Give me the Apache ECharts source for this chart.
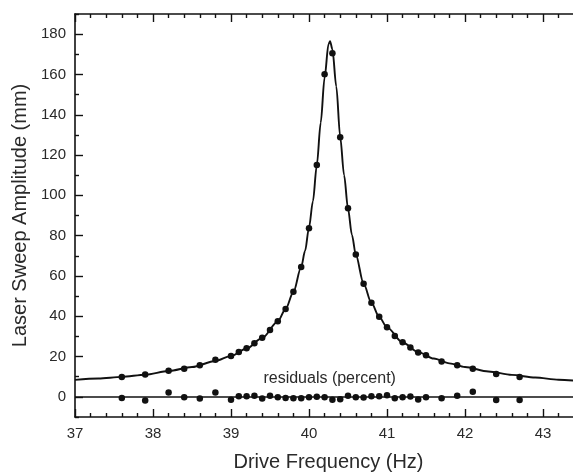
<!DOCTYPE html>
<html>
<head>
<meta charset="utf-8">
<script src="https://cdn.jsdelivr.net/npm/echarts@6/dist/echarts.min.js"></script>
<style>
  html, body { margin: 0; padding: 0; background: #fff; }
  #main { width: 573px; height: 473px; }
</style>
</head>
<body>
<div id="main"></div>
<script>
// measured points (Hz, mm) and residuals (percent)
var freq = [37.6, 37.9, 38.2, 38.4, 38.6, 38.8, 39.0, 39.1, 39.2, 39.3, 39.4, 39.5, 39.6, 39.7, 39.8, 39.9,
  40.0, 40.1, 40.2, 40.3, 40.4, 40.5, 40.6, 40.7, 40.8, 40.9, 41.0, 41.1, 41.2, 41.3, 41.4, 41.5,
  41.7, 41.9, 42.1, 42.4, 42.7];
var amplitude = [9.9, 11.1, 12.9, 14.0, 15.7, 18.4, 20.3, 22.2, 24.1, 26.6, 29.3, 33.2, 37.5, 43.6, 52.1, 64.5,
  83.7, 115.1, 160.1, 170.5, 128.8, 93.6, 70.6, 56.1, 46.7, 39.7, 34.5, 30.2, 27.1, 24.5, 22.0, 20.7,
  17.5, 15.7, 14.0, 11.4, 9.8];
var residuals = [-0.6, -1.8, 2.2, -0.2, -0.8, 2.2, -1.5, 0.3, 0.3, 0.6, -0.8, 0.5, -0.2, -0.6, -0.7, -0.7,
  -0.2, 0.0, -0.2, -1.5, -1.2, 0.6, -0.2, -0.3, 0.3, 0.3, 0.8, -0.7, -0.2, 0.2, -1.3, -0.2,
  -0.7, 0.5, 2.5, -1.6, -1.6];

// fitted curve
var fitFreq = [37.0, 37.3, 37.6, 37.9, 38.2, 38.5, 38.8, 39.0, 39.2, 39.4, 39.6, 39.7, 39.8, 39.9, 39.95,
  40.0, 40.05, 40.1, 40.15, 40.2, 40.25, 40.27, 40.3, 40.35, 40.4, 40.45, 40.5, 40.55, 40.6, 40.7,
  40.8, 40.9, 41.0, 41.2, 41.4, 41.6, 41.8, 42.0, 42.3, 42.6, 42.9, 43.2, 43.5];
var fitAmp = [8.4, 9.1, 9.9, 11.0, 12.8, 14.8, 17.8, 20.3, 24.0, 29.2, 37.4, 43.6, 52.0, 64.5, 72.5,
  84.0, 97.0, 115.0, 136.0, 158.5, 175.0, 176.5, 172.5, 154.0, 129.0, 110.0, 93.5, 80.5, 70.5, 56.2,
  46.7, 39.7, 34.5, 27.0, 22.2, 19.0, 16.6, 14.8, 12.6, 10.9, 9.6, 8.5, 7.7];

var xTicks = [37, 38, 39, 40, 41, 42, 43];
var yTicks = [0, 20, 40, 60, 80, 100, 120, 140, 160, 180];
var xMinor = [];
for (var i = 0; i < xTicks.length; i++) {
  for (var k = 1; k < 5; k++) xMinor.push(+(xTicks[i] + k * 0.2).toFixed(1));
}
var yMinor = [-10];
for (var j = 0; j < yTicks.length; j++) yMinor.push(yTicks[j] + 10);

var ink = '#111';
var txt = '#2a2a2a';
var font = 'Arial, "Liberation Sans", sans-serif';

function xAx(pos, ticks, len, major) {
  return {
    type: 'value', position: pos, min: 37, max: 43.5,
    axisLine: { show: major, onZero: false, lineStyle: { color: ink, width: 1.6 } },
    axisTick: { show: true, inside: true, length: len, customValues: ticks, lineStyle: { color: ink, width: 1.4 } },
    axisLabel: { show: major && pos === 'bottom', customValues: xTicks, margin: 9, fontSize: 15, color: txt, fontFamily: font },
    splitLine: { show: false }
  };
}
function yAx(ticks, len, major) {
  return {
    type: 'value', position: 'left', min: -10, max: 190,
    axisLine: { show: major, onZero: false, lineStyle: { color: ink, width: 1.6 } },
    axisTick: { show: true, inside: true, length: len, customValues: ticks, lineStyle: { color: ink, width: 1.4 } },
    axisLabel: { show: major, customValues: yTicks, margin: 9, fontSize: 15, color: txt, fontFamily: font },
    splitLine: { show: false }
  };
}

var xMain = xAx('bottom', xTicks, 8, true);
xMain.name = 'Drive Frequency (Hz)';
xMain.nameLocation = 'middle';
xMain.nameGap = 35;
xMain.nameTextStyle = { fontSize: 20, color: txt, fontFamily: font };
var yMain = yAx(yTicks, 8, true);
yMain.name = 'Laser Sweep Amplitude (mm)';
yMain.nameLocation = 'middle';
yMain.nameGap = 44;
yMain.nameTextStyle = { fontSize: 20, color: txt, fontFamily: font };

var chart = echarts.init(document.getElementById('main'));
chart.setOption({
  animation: false,
  backgroundColor: '#fff',
  // plot runs past the right edge of the picture, as in the source figure
  grid: { left: 75, width: 507, top: 14, bottom: 56, outerBoundsMode: 'none' },
  xAxis: [xMain, xAx('bottom', xMinor, 4, false), xAx('top', xTicks, 8, true), xAx('top', xMinor, 4, false)],
  yAxis: [yMain, yAx(yMinor, 4, false)],
  series: [
    {
      name: 'fit', type: 'line', smooth: 0.3, smoothMonotone: 'x', showSymbol: false,
      data: fitFreq.map(function (f, i) { return [f, fitAmp[i]]; }),
      lineStyle: { color: ink, width: 1.9 }
    },
    {
      name: 'data', type: 'scatter', symbolSize: 6.5,
      data: freq.map(function (f, i) { return [f, amplitude[i]]; }),
      itemStyle: { color: ink, opacity: 1 }
    },
    {
      name: 'residuals', type: 'scatter', symbolSize: 6.5,
      data: freq.map(function (f, i) { return [f, residuals[i]]; }),
      itemStyle: { color: ink, opacity: 1 },
      markLine: {
        silent: true, symbol: 'none',
        label: { show: false },
        lineStyle: { color: ink, width: 1.5, type: 'solid' },
        data: [{ yAxis: 0 }]
      },
      markPoint: {
        silent: true, symbol: 'circle', symbolSize: 0,
        label: { show: true, position: 'inside', formatter: 'residuals (percent)', fontSize: 16, color: txt, fontFamily: font },
        data: [{ coord: [40.265, 9.1] }]
      }
    }
  ]
});
</script>
</body>
</html>
